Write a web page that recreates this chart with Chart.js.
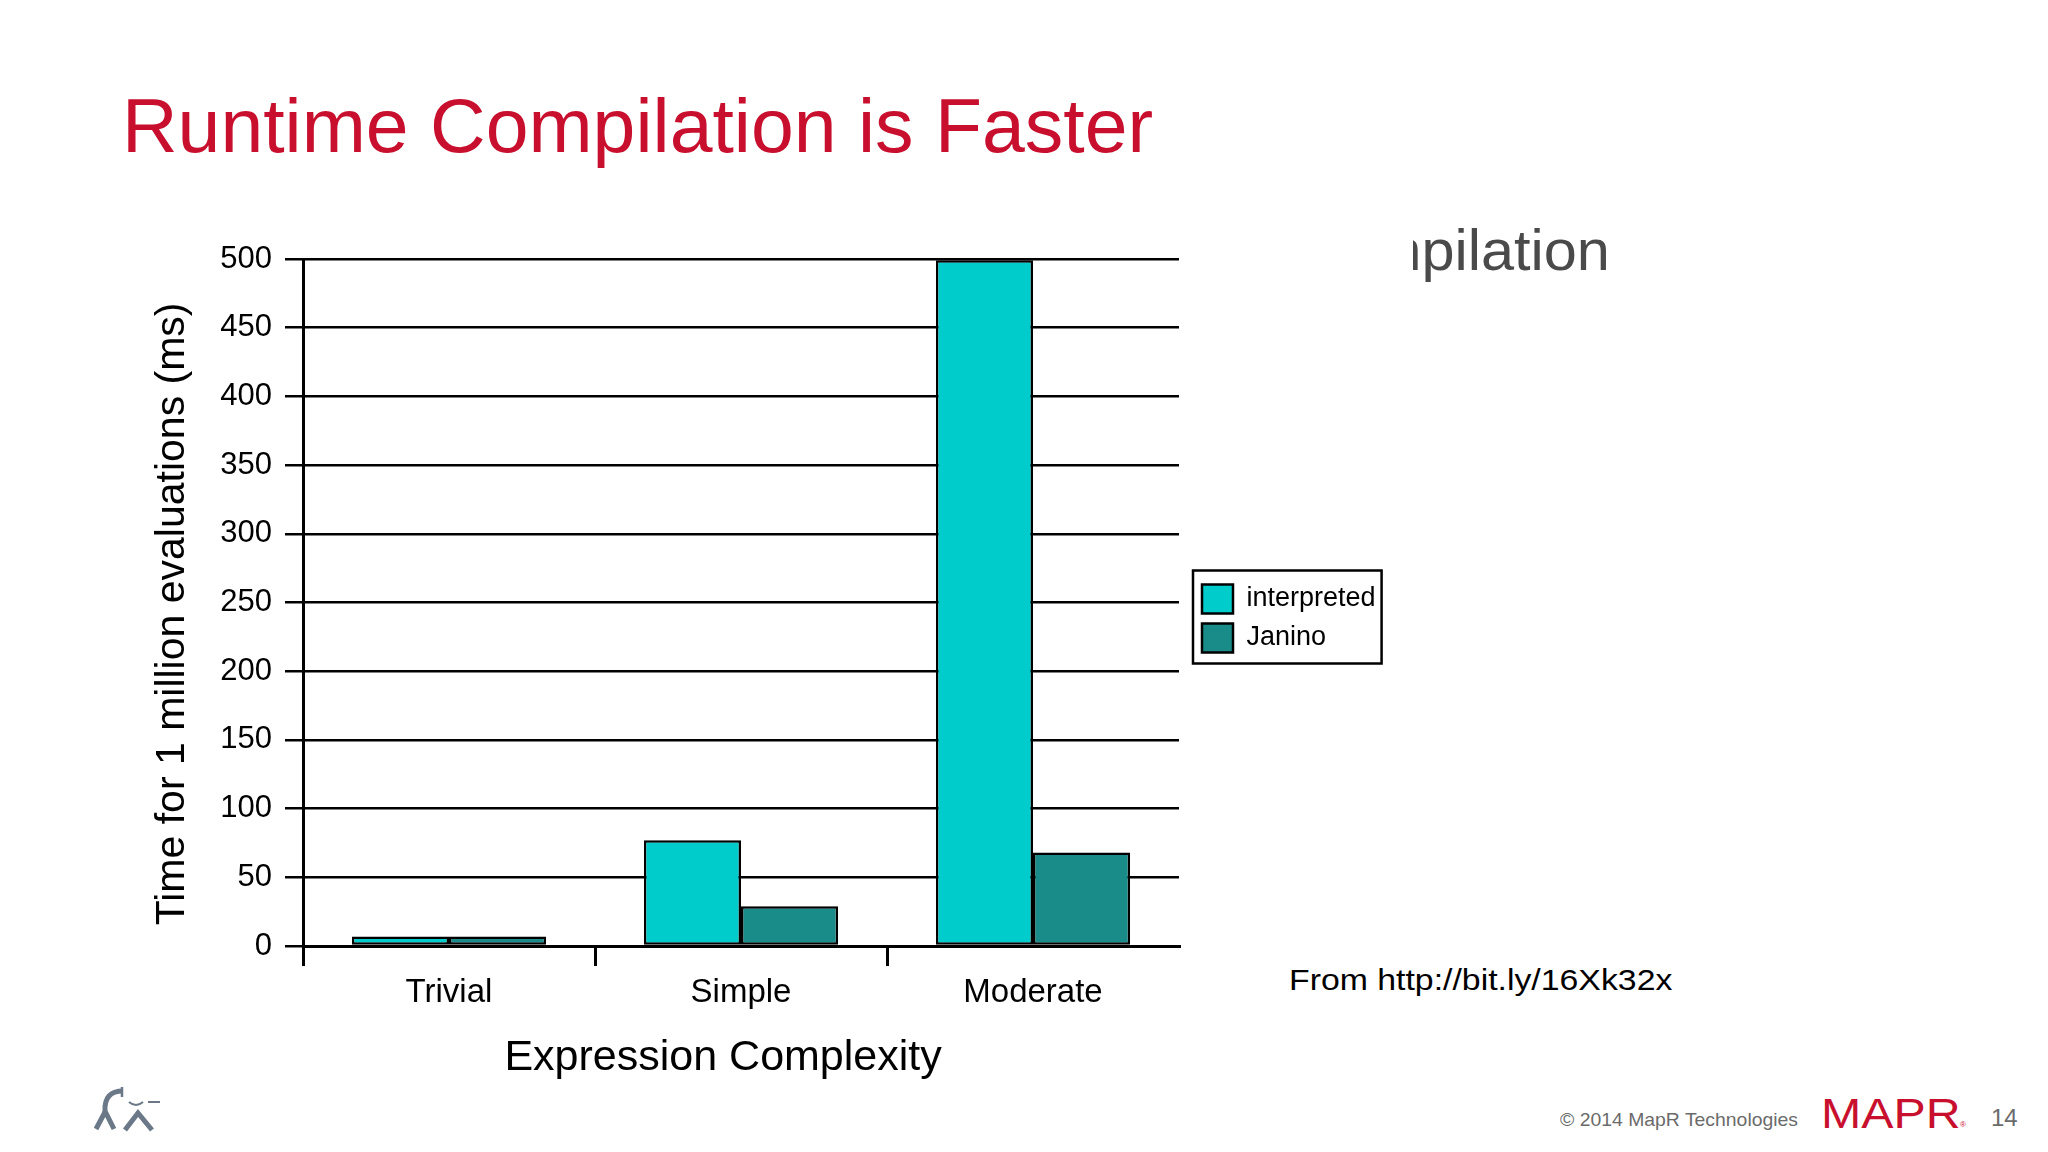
<!DOCTYPE html>
<html>
<head>
<meta charset="utf-8">
<script src="https://cdn.jsdelivr.net/npm/chart.js@4/dist/chart.umd.min.js"></script>
<style>
  html, body { margin: 0; padding: 0; background: #ffffff; }
  body { width: 2048px; height: 1152px; position: relative; overflow: hidden; font-family: "Liberation Sans", Arial, sans-serif; }
  .t { position: absolute; white-space: nowrap; line-height: 1; transform-origin: 0 0; }
  #chartBox { position: absolute; left: 124px; top: 190px; width: 1290px; height: 900px; }
</style>
</head>
<body>
<div class="t" style="left:122px; top:88px; font-size:76px; color:#C8102E; transform:scaleX(1.013);">Runtime Compilation is Faster</div>
<div class="t" style="left:1372px; top:221px; font-size:58px; color:#4a4a4a; transform:scaleX(1.025);">mpilation</div>
<div style="position:absolute; left:1290px; top:200px; width:123px; height:110px; background:#ffffff;"></div>
<div class="t" style="left:1289px; top:965px; font-size:30px; color:#000000; transform:scaleX(1.127);">From http://bit.ly/16Xk32x</div>
<div class="t" style="left:1560px; top:1110px; font-size:19px; color:#6b6b6b; transform:scaleX(1.02);">© 2014 MapR Technologies</div>
<div class="t" style="left:1821px; top:1093px; font-size:42px; color:#C8102E; transform:scaleX(1.15);">MAPR</div>
<div class="t" style="left:1960px; top:1121px; font-size:8px; color:#C8102E;">®</div>
<div class="t" style="left:1991px; top:1106px; font-size:24px; color:#6b6b6b;">14</div>
<svg style="position:absolute; left:88px; top:1080px;" width="80" height="60" viewBox="88 1080 80 60">
  <path d="M123 1091 Q104 1091 105 1111 L114 1129" stroke="#6a7888" stroke-width="5" fill="none" stroke-linecap="butt"/>
  <path d="M105 1112 L96 1129" stroke="#6a7888" stroke-width="5" fill="none"/>
  <path d="M122 1087 L122 1097" stroke="#6a7888" stroke-width="2.5" fill="none"/>
  <path d="M125 1130 L138 1113 L152 1130" stroke="#6a7888" stroke-width="5" fill="none"/>
  <path d="M129 1102 Q136 1108 143 1102 M148 1102 L160 1102" stroke="#6a7888" stroke-width="2" fill="none"/>
</svg>
<div id="chartBox"><canvas id="c"></canvas></div>
<script>
const categories = ["Trivial", "Simple", "Moderate"];
const interpreted = [7, 77, 499];
const janino = [7, 29, 68];
const seriesNames = ["interpreted", "Janino"];
const yTicksMin = 0, yTicksMax = 500, yTickStep = 50;
const xTitle = "Expression Complexity   ";
const yTitle = "Time for 1 million evaluations (ms)  ";

const FONT = "'Liberation Sans', Arial, sans-serif";

const legendPlace = {
  id: 'legendPlace',
  afterLayout(chart) {
    const lg = chart.legend;
    if (!lg) return;
    lg.left += 13; lg.right += 13;
    lg.top -= 56; lg.bottom -= 56;
  },
  afterDraw(chart) {
    const lg = chart.legend;
    if (!lg || !lg.legendHitBoxes || !lg.legendHitBoxes.length) return;
    let l = Infinity, t = Infinity, r = -Infinity, b = -Infinity;
    lg.legendHitBoxes.forEach(h => {
      l = Math.min(l, h.left); t = Math.min(t, h.top);
      r = Math.max(r, h.left + h.width); b = Math.max(b, h.top + h.height);
    });
    const ctx = chart.ctx;
    ctx.save();
    ctx.strokeStyle = '#000';
    ctx.lineWidth = 2.5;
    ctx.strokeRect(l - 9, t - 14, (r - l) + 15, (b - t) + 25);
    ctx.restore();
  }
};

new Chart(document.getElementById('c'), {
  type: 'bar',
  data: {
    labels: categories,
    datasets: [
      { label: seriesNames[0], data: interpreted, backgroundColor: '#00CCCC', borderColor: '#000', borderWidth: 2.5, borderSkipped: false },
      { label: seriesNames[1], data: janino, backgroundColor: '#198C8A', borderColor: '#000', borderWidth: 2.5, borderSkipped: false }
    ]
  },
  plugins: [legendPlace],
  options: {
    responsive: true,
    maintainAspectRatio: false,
    animation: false,
    devicePixelRatio: 1,
    layout: { padding: { left: 0, right: 45, top: 69, bottom: 0 } },
    datasets: { bar: { categoryPercentage: 0.665, barPercentage: 1.0 } },
    plugins: {
      tooltip: { enabled: false },
      legend: {
        position: 'right',
        align: 'center',
        maxWidth: 190,
        labels: {
          color: '#000',
          font: { family: FONT, size: 27 },
          boxWidth: 31,
          boxHeight: 29,
          padding: 10
        }
      }
    },
    scales: {
      x: {
        offset: true,
        afterFit(scale) { scale.height = 144; },
        grid: {
          offset: true,
          drawOnChartArea: false,
          drawTicks: true,
          tickLength: 20,
          lineWidth: 3,
          color: (ctx) => ctx.type === 'tick' ? '#000' : 'rgba(0,0,0,0)'
        },
        border: { display: true, color: '#000', width: 3 },
        ticks: { color: '#000', font: { family: FONT, size: 33 }, padding: 7, maxRotation: 0 },
        title: { display: true, text: xTitle, color: '#000', font: { family: FONT, size: 43 }, padding: { top: 0, bottom: 6 } }
      },
      y: {
        min: yTicksMin,
        max: yTicksMax,
        afterFit(scale) { scale.width = 179; },
        grid: { color: '#000', lineWidth: 2.5, tickLength: 18, drawTicks: true },
        border: { display: true, color: '#000', width: 3 },
        ticks: { stepSize: yTickStep, color: '#000', font: { family: FONT, size: 31 }, padding: 13 },
        title: { display: true, text: yTitle, color: '#000', font: { family: FONT, size: 41 }, padding: { top: 24, bottom: 0 } }
      }
    }
  }
});
</script>
</body>
</html>
